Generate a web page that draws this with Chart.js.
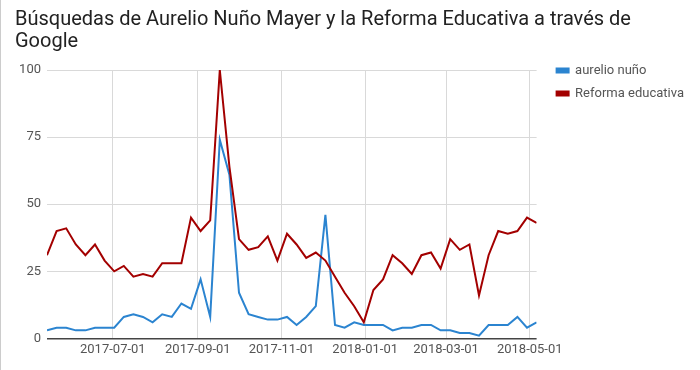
<!DOCTYPE html>
<html>
<head>
<meta charset="utf-8">
<script src="https://cdn.jsdelivr.net/npm/chart.js@4"></script>
<style>
    body { margin: 0; background: #fff; }
    #wrap { position: relative; width: 700px; height: 370px; }
    #wrap::before { content: ''; position: absolute; left: 0; top: 0; width: 1px; height: 370px; background: #ccc; }
</style>
</head>
<body>
<div id="wrap"><canvas id="trendsChart" width="700" height="370"></canvas></div>
<script>
// Weekly Google Trends data (week start dates)
const weeks = [
    '2017-05-14', '2017-05-21', '2017-05-28', '2017-06-04', '2017-06-11', '2017-06-18', '2017-06-25',
    '2017-07-02', '2017-07-09', '2017-07-16', '2017-07-23', '2017-07-30', '2017-08-06', '2017-08-13',
    '2017-08-20', '2017-08-27', '2017-09-03', '2017-09-10', '2017-09-17', '2017-09-24', '2017-10-01',
    '2017-10-08', '2017-10-15', '2017-10-22', '2017-10-29', '2017-11-05', '2017-11-12', '2017-11-19',
    '2017-11-26', '2017-12-03', '2017-12-10', '2017-12-17', '2017-12-24', '2017-12-31', '2018-01-07',
    '2018-01-14', '2018-01-21', '2018-01-28', '2018-02-04', '2018-02-11', '2018-02-18', '2018-02-25',
    '2018-03-04', '2018-03-11', '2018-03-18', '2018-03-25', '2018-04-01', '2018-04-08', '2018-04-15',
    '2018-04-22', '2018-04-29', '2018-05-06'
];

const aurelioNuno = [
    3, 4, 4, 3, 3, 4, 4, 4, 8, 9, 8, 6, 9, 8, 13, 11, 22, 8, 74, 61,
    17, 9, 8, 7, 7, 8, 5, 8, 12, 46, 5, 4, 6, 5, 5, 5, 3, 4, 4, 5,
    5, 3, 3, 2, 2, 1, 5, 5, 5, 8, 4, 6
];

const reformaEducativa = [
    31, 40, 41, 35, 31, 35, 29, 25, 27, 23, 24, 23, 28, 28, 28, 45, 40, 44, 100, 64,
    37, 33, 34, 38, 29, 39, 35, 30, 32, 29, 23, 17, 12, 6, 18, 22, 31, 28, 24, 31,
    32, 26, 37, 33, 35, 16, 31, 40, 39, 40, 45, 43
];

const tickDates = ['2017-07-01', '2017-09-01', '2017-11-01', '2018-01-01', '2018-03-01', '2018-05-01'];
const tickLabels = ['2017-07-01', '2017-09-01', '2017-11-01', '2018-01-01', '2018-03-01', '2018-05-01'];

const FONT = 'Roboto, "Noto Sans", sans-serif';

// Move the legend to sit beside the plot, top aligned with the 100 line
const legendNudge = {
    id: 'legendNudge',
    beforeDraw(chart) {
        chart.legend.left = chart.chartArea.right + 10;
        chart.legend.top = chart.chartArea.top - 16;
    }
};

function toPoints(values) {
    return values.map((v, i) => ({ x: Date.parse(weeks[i]), y: v }));
}

new Chart(document.getElementById('trendsChart'), {
    type: 'line',
    data: {
        datasets: [
            {
                label: 'aurelio nuño',
                data: toPoints(aurelioNuno),
                borderColor: '#2b84d0',
                backgroundColor: '#2b84d0',
                borderWidth: 2,
                pointRadius: 0,
                tension: 0,
                order: 1
            },
            {
                label: 'Reforma educativa',
                data: toPoints(reformaEducativa),
                borderColor: '#a30000',
                backgroundColor: '#a30000',
                borderWidth: 2,
                pointRadius: 0,
                tension: 0,
                order: 0
            }
        ]
    },
    options: {
        responsive: false,
        animation: false,
        layout: {
            padding: { left: 15, right: 16, top: 0, bottom: 8 }
        },
        scales: {
            x: {
                type: 'linear',
                min: Date.parse(weeks[0]),
                max: Date.parse(weeks[weeks.length - 1]),
                afterBuildTicks: (scale) => {
                    scale.ticks = tickDates.map(d => ({ value: Date.parse(d) }));
                },
                ticks: {
                    autoSkip: false,
                    maxRotation: 0,
                    padding: 4,
                    color: '#555',
                    font: { family: FONT, size: 13 },
                    callback: (value, i) => tickLabels[i]
                },
                grid: {
                    color: '#d9d9d9',
                    drawTicks: false
                },
                border: { display: false }
            },
            y: {
                min: 0,
                max: 100,
                afterFit: (scale) => { scale.width = 32; },
                ticks: {
                    stepSize: 25,
                    padding: 6,
                    color: '#555',
                    font: { family: FONT, size: 13 }
                },
                grid: {
                    color: (ctx) => ctx.tick && ctx.tick.value === 0 ? '#444' : '#d9d9d9',
                    lineWidth: (ctx) => ctx.tick && ctx.tick.value === 0 ? 1.5 : 1,
                    drawTicks: false
                },
                border: { display: false }
            }
        },
        plugins: {
            title: {
                display: true,
                text: ['Búsquedas de Aurelio Nuño Mayer y la Reforma Educativa a través de', 'Google'],
                align: 'start',
                color: '#222',
                font: { family: FONT, size: 20, weight: 'normal', lineHeight: 1.1 },
                padding: { top: 9, bottom: 17 }
            },
            legend: {
                position: 'right',
                align: 'start',
                fullSize: false,
                labels: {
                    boxWidth: 12,
                    boxHeight: 4,
                    padding: 10,
                    color: '#555',
                    font: { family: FONT, size: 13 },
                    sort: (a, b) => a.datasetIndex - b.datasetIndex
                }
            },
            tooltip: { enabled: false }
        }
    },
    plugins: [legendNudge]
});
</script>
</body>
</html>
